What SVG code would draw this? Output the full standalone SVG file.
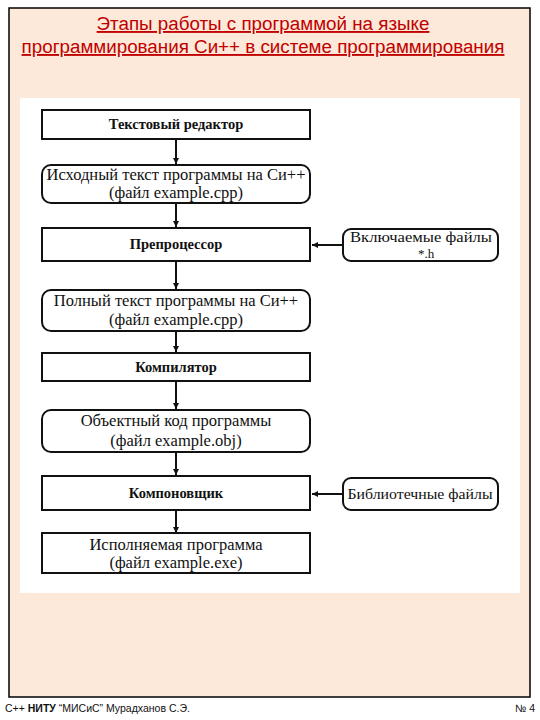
<svg xmlns="http://www.w3.org/2000/svg" width="540" height="720" viewBox="0 0 540 720">
<defs>
<style>
.box{fill:#fff;stroke:#111;stroke-width:2}
.b{font-family:"Liberation Serif","DejaVu Serif",serif;font-weight:bold;font-size:14.5px;fill:#111;text-anchor:middle}
.r{font-family:"Liberation Serif","DejaVu Serif",serif;font-size:16.5px;fill:#111;text-anchor:middle}
.s{font-family:"Liberation Serif","DejaVu Serif",serif;font-size:15px;fill:#111;text-anchor:middle}
.ttl{font-family:"Liberation Sans",Arial,sans-serif;font-size:18.8px;fill:#c00000;text-anchor:middle;text-decoration:underline}
.ft{font-family:"Liberation Sans",Arial,sans-serif;font-size:10.5px;fill:#111}
.c{stroke:#111;stroke-width:2;fill:none}
</style>
<marker id="ah" viewBox="0 0 10 10" refX="10" refY="5" markerWidth="6" markerHeight="6" markerUnits="userSpaceOnUse" orient="auto">
<path d="M0,0 L10,5 L0,10 z" fill="#111"/>
</marker>
</defs>
<rect x="0" y="0" width="540" height="720" fill="#fff"/>
<rect x="9" y="8" width="521" height="689" fill="#fde9d9" stroke="#000" stroke-width="1.5"/>
<rect x="20" y="98" width="500" height="495" fill="#fff"/>
<g id="title">
<text class="ttl" x="263" y="30">Этапы работы с программой на языке</text>
<text class="ttl" x="263" y="53">программирования Си++ в системе программирования</text>
</g>
<g id="connectors">
<line class="c" x1="176" y1="139" x2="176" y2="164" marker-end="url(#ah)"/>
<line class="c" x1="176" y1="203" x2="176" y2="227" marker-end="url(#ah)"/>
<line class="c" x1="176" y1="261" x2="176" y2="289" marker-end="url(#ah)"/>
<line class="c" x1="176" y1="331" x2="176" y2="352" marker-end="url(#ah)"/>
<line class="c" x1="176" y1="381" x2="176" y2="409" marker-end="url(#ah)"/>
<line class="c" x1="176" y1="452" x2="176" y2="475" marker-end="url(#ah)"/>
<line class="c" x1="176" y1="510" x2="176" y2="533" marker-end="url(#ah)"/>
<line class="c" x1="343" y1="245" x2="312" y2="245" marker-end="url(#ah)"/>
<line class="c" x1="343" y1="494" x2="312" y2="494" marker-end="url(#ah)"/>
</g>
<g id="n1"><rect class="box" x="42" y="110" width="268" height="29"/><text class="b" x="176" y="129">Текстовый редактор</text></g>
<g id="n2"><rect class="box" x="42" y="165" width="268" height="38" rx="9"/><text class="r" x="176" y="180">Исходный текст программы на Си++</text><text class="r" x="176" y="198">(файл  example.cpp)</text></g>
<g id="n3"><rect class="box" x="42" y="228" width="268" height="33"/><text class="b" x="176" y="249">Препроцессор</text></g>
<g id="n4"><rect class="box" x="42" y="290" width="268" height="41" rx="9"/><text class="r" x="176" y="306">Полный текст программы на Си++</text><text class="r" x="176" y="325">(файл  example.cpp)</text></g>
<g id="n5"><rect class="box" x="42" y="353" width="268" height="28"/><text class="b" x="176" y="372">Компилятор</text></g>
<g id="n6"><rect class="box" x="42" y="410" width="268" height="42" rx="9"/><text class="r" x="176" y="426">Объектный код программы</text><text class="r" x="176" y="446">(файл  example.obj)</text></g>
<g id="n7"><rect class="box" x="42" y="476" width="268" height="34"/><text class="b" x="176" y="498">Компоновщик</text></g>
<g id="n8"><rect class="box" x="42" y="533" width="268" height="40"/><text class="r" x="176" y="550">Исполняемая программа</text><text class="r" x="176" y="568">(файл  example.exe)</text></g>
<g id="s1"><rect class="box" x="343" y="229" width="155" height="32" rx="8"/><text class="s" x="421" y="242" textLength="142" lengthAdjust="spacingAndGlyphs">Включаемые файлы</text><text class="s" x="426" y="258" style="font-size:13px">*.h</text></g>
<g id="s2"><rect class="box" x="343" y="478" width="155" height="32" rx="8"/><text class="s" x="420" y="499" textLength="145" lengthAdjust="spacingAndGlyphs">Библиотечные файлы</text></g>
<g id="footer">
<text class="ft" x="5" y="712">С++ <tspan font-weight="bold">НИТУ</tspan> “МИСиС” Мурадханов С.Э.</text>
<text class="ft" x="535" y="712" text-anchor="end">№ 4</text>
</g>
</svg>
